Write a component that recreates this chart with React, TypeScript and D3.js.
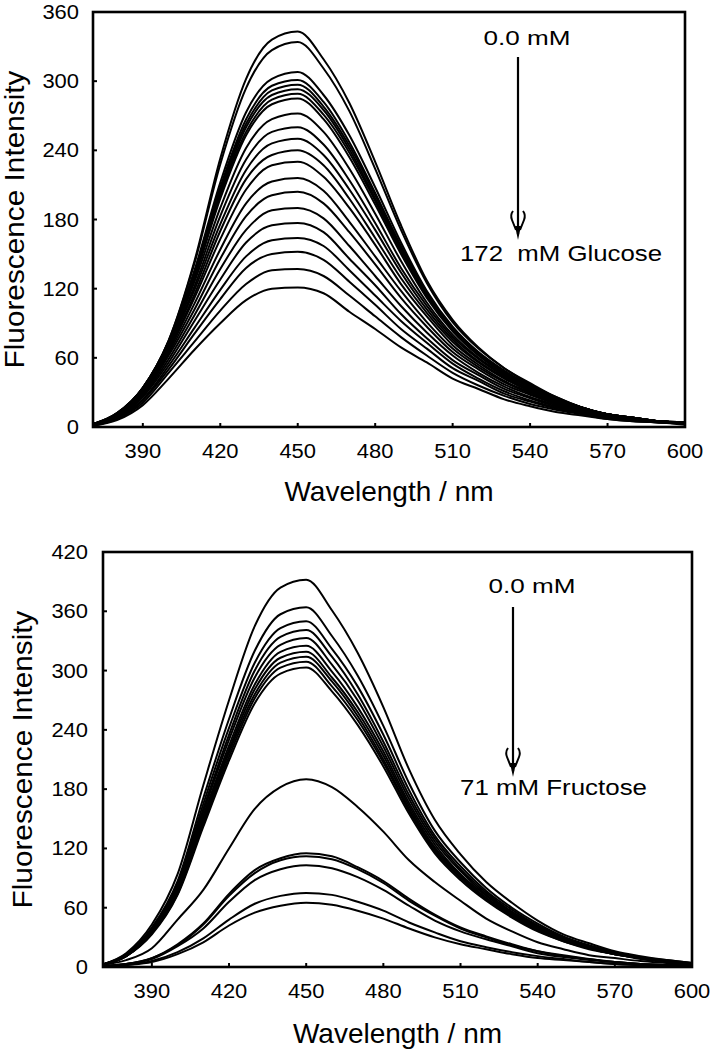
import React from 'react';
import * as d3 from 'd3';

// Wavelength grid (nm)
const WAVELENGTHS = [370, 380, 390, 400, 410, 420, 430, 440, 450, 460, 470, 480, 490, 500, 510, 520, 530, 540, 550, 560, 570, 580, 590, 600];

// Glucose titration: 0.0 mM (top) ... 172 mM (bottom)
const gl00 = [2, 12, 34, 75, 144, 233, 302, 336, 343, 319, 281, 230, 175, 127, 93, 69, 51, 38, 26, 17, 11, 8, 5, 3];
const gl01 = [2, 12, 34, 75, 142, 228, 294, 327, 334, 311, 274, 224, 171, 125, 91, 68, 51, 37, 26, 17, 11, 8, 5, 3];
const gl02 = [2, 12, 34, 74, 136, 212, 273, 302, 308, 288, 253, 208, 160, 118, 87, 65, 49, 36, 25, 17, 11, 8, 5, 4];
const gl03 = [2, 11, 34, 74, 134, 208, 267, 296, 301, 282, 247, 203, 157, 117, 86, 64, 48, 35, 25, 17, 11, 8, 5, 4];
const gl04 = [2, 11, 33, 73, 133, 206, 263, 292, 297, 278, 244, 201, 155, 116, 85, 64, 48, 35, 24, 17, 11, 8, 5, 4];
const gl05 = [2, 11, 33, 73, 132, 203, 260, 288, 293, 275, 241, 198, 153, 114, 85, 63, 47, 35, 24, 17, 11, 8, 5, 4];
const gl06 = [2, 11, 33, 73, 130, 201, 256, 284, 289, 271, 238, 196, 152, 113, 84, 63, 47, 35, 24, 17, 11, 8, 5, 4];
const gl07 = [2, 11, 33, 72, 129, 198, 253, 280, 285, 267, 234, 193, 150, 112, 83, 62, 46, 34, 24, 16, 11, 8, 5, 4];
const gl08 = [2, 11, 32, 71, 126, 190, 242, 267, 272, 256, 224, 185, 144, 108, 80, 60, 45, 33, 23, 16, 11, 8, 5, 4];
const gl09 = [2, 11, 32, 70, 122, 183, 232, 256, 260, 245, 214, 177, 138, 105, 78, 59, 44, 32, 23, 16, 11, 7, 5, 4];
const gl10 = [2, 10, 31, 69, 119, 176, 223, 246, 250, 236, 206, 171, 134, 102, 76, 57, 43, 32, 22, 16, 11, 7, 5, 4];
const gl11 = [2, 10, 31, 67, 115, 170, 215, 236, 240, 227, 198, 164, 129, 99, 74, 56, 42, 31, 22, 15, 10, 7, 5, 4];
const gl12 = [2, 10, 30, 66, 112, 163, 206, 227, 230, 217, 190, 158, 124, 96, 71, 54, 40, 30, 21, 15, 10, 7, 5, 3];
const gl13 = [2, 9, 29, 64, 107, 154, 194, 213, 216, 205, 178, 148, 118, 91, 68, 52, 39, 29, 21, 14, 10, 7, 5, 3];
const gl14 = [2, 9, 28, 62, 102, 146, 183, 201, 204, 194, 169, 141, 112, 87, 65, 50, 37, 28, 20, 14, 10, 7, 5, 3];
const gl15 = [2, 9, 27, 59, 97, 137, 171, 188, 190, 181, 157, 131, 105, 82, 62, 47, 35, 26, 19, 13, 9, 7, 5, 3];
const gl16 = [2, 8, 26, 56, 92, 128, 160, 175, 177, 169, 146, 123, 98, 77, 58, 45, 33, 25, 18, 13, 9, 6, 5, 3];
const gl17 = [1, 8, 24, 53, 86, 119, 148, 162, 164, 157, 136, 114, 92, 73, 55, 42, 31, 23, 17, 12, 8, 6, 4, 3];
const gl18 = [1, 7, 23, 50, 81, 111, 138, 150, 152, 145, 126, 106, 85, 68, 51, 40, 29, 22, 16, 12, 8, 6, 4, 3];
const gl19 = [1, 7, 21, 47, 74, 101, 124, 136, 137, 131, 114, 96, 78, 62, 47, 36, 27, 20, 15, 11, 7, 5, 4, 3];
const gl20 = [1, 6, 19, 42, 67, 90, 110, 120, 121, 116, 100, 85, 69, 56, 42, 33, 24, 18, 13, 10, 7, 5, 4, 2];
const glucoseSeries = [gl00, gl01, gl02, gl03, gl04, gl05, gl06, gl07, gl08, gl09, gl10, gl11, gl12, gl13, gl14, gl15, gl16, gl17, gl18, gl19, gl20];

// Fructose titration: 0.0 mM (top) ... 71 mM (bottom)
const fr00 = [2, 14, 43, 94, 184, 270, 345, 384, 392, 361, 318, 263, 200, 149, 114, 86, 65, 47, 33, 24, 16, 11, 7, 4];
const fr01 = [2, 13, 40, 87, 171, 251, 320, 357, 364, 335, 295, 244, 186, 138, 106, 80, 60, 44, 31, 22, 15, 10, 7, 4];
const fr02 = [2, 12, 39, 84, 165, 242, 308, 343, 350, 322, 284, 235, 179, 133, 102, 77, 58, 42, 30, 21, 15, 10, 6, 4];
const fr03 = [2, 12, 38, 82, 160, 235, 300, 334, 341, 314, 276, 228, 174, 130, 99, 75, 56, 41, 29, 20, 14, 10, 6, 3];
const fr04 = [2, 12, 37, 80, 157, 230, 293, 326, 333, 306, 270, 223, 170, 127, 97, 73, 55, 40, 28, 20, 14, 9, 6, 3];
const fr05 = [2, 11, 36, 78, 153, 224, 286, 319, 325, 299, 263, 218, 166, 124, 94, 72, 54, 39, 28, 20, 14, 9, 6, 3];
const fr06 = [2, 11, 35, 77, 150, 220, 281, 313, 319, 293, 258, 214, 163, 121, 93, 70, 53, 38, 27, 19, 13, 9, 6, 3];
const fr07 = [2, 11, 35, 75, 148, 217, 276, 308, 314, 289, 254, 210, 160, 119, 91, 69, 52, 38, 27, 19, 13, 9, 6, 3];
const fr08 = [2, 11, 34, 74, 145, 213, 272, 303, 309, 284, 250, 207, 158, 117, 90, 68, 51, 37, 26, 19, 13, 9, 6, 3];
const fr09 = [2, 11, 33, 73, 142, 209, 267, 297, 303, 279, 245, 203, 155, 115, 88, 67, 50, 36, 26, 18, 13, 8, 5, 3];
const fr10 = [2, 7, 19, 48, 78, 120, 160, 182, 190, 182, 162, 137, 108, 86, 67, 49, 36, 25, 18, 12, 9, 6, 4, 2];
const fr11 = [1, 3, 9, 23, 44, 74, 98, 110, 115, 112, 101, 87, 69, 53, 40, 31, 23, 16, 12, 8, 5, 3, 2, 1];
const fr12 = [1, 3, 9, 22, 43, 72, 95, 108, 112, 109, 99, 85, 67, 52, 39, 30, 22, 16, 11, 8, 5, 3, 2, 1];
const fr13 = [1, 3, 8, 21, 39, 66, 88, 99, 103, 100, 91, 78, 62, 47, 36, 28, 21, 14, 10, 7, 5, 3, 2, 1];
const fr14 = [0, 2, 6, 15, 29, 48, 64, 72, 75, 73, 66, 57, 45, 35, 26, 20, 15, 11, 8, 5, 3, 2, 2, 1];
const fr15 = [0, 2, 5, 13, 25, 42, 55, 62, 65, 63, 57, 49, 39, 30, 23, 18, 13, 9, 7, 5, 3, 2, 1, 1];
const fructoseSeries = [fr00, fr01, fr02, fr03, fr04, fr05, fr06, fr07, fr08, fr09, fr10, fr11, fr12, fr13, fr14, fr15];

// Tick labels
const X_TICKS = [390, 420, 450, 480, 510, 540, 570, 600];
const Y_TICKS_GLUCOSE = [0, 60, 120, 180, 240, 300, 360];
const Y_TICKS_FRUCTOSE = [0, 60, 120, 180, 240, 300, 360, 420];

const FONT = '"Liberation Sans", Arial, Helvetica, sans-serif';

type PanelCfg = {
  id: string;
  series: number[][];
  yTicks: number[];
  yMax: number;
  xMin: number;
  left: number;
  right: number;
  top: number;
  bottom: number;
  xLabelBaseline: number;
  xTitleBaseline: number;
  yTitleX: number;
  yLabelRight: number;
  startLabel: string;
  startX: number;
  startY: number;
  arrowX: number;
  arrowY1: number;
  arrowY2: number;
  endLabel: string;
  endX: number;
  endY: number;
  endLen: number;
};

function Panel({ cfg }: { cfg: PanelCfg }) {
  const x = d3.scaleLinear().domain([cfg.xMin, 600]).range([cfg.left, cfg.right]);
  const y = d3.scaleLinear().domain([0, cfg.yMax]).range([cfg.bottom, cfg.top]);
  const line = d3
    .line<number>()
    .x((_, i) => x(WAVELENGTHS[i]))
    .y((d) => y(d))
    .curve(d3.curveMonotoneX);
  const clipId = `clip-${cfg.id}`;
  const midX = (cfg.left + cfg.right) / 2;
  const midY = (cfg.top + cfg.bottom) / 2;
  const ax = cfg.arrowX;
  const ay = cfg.arrowY2;
  return (
    <g>
      <defs>
        <clipPath id={clipId}>
          <rect x={cfg.left} y={cfg.top} width={cfg.right - cfg.left} height={cfg.bottom - cfg.top} />
        </clipPath>
      </defs>
      <g clipPath={`url(#${clipId})`}>
        {cfg.series.map((s, i) => (
          <path key={i} d={line(s) || ''} fill="none" stroke="#000" strokeWidth={2} strokeLinejoin="round" />
        ))}
      </g>
      <rect x={cfg.left} y={cfg.top} width={cfg.right - cfg.left} height={cfg.bottom - cfg.top} fill="none" stroke="#000" strokeWidth={2.6} />
      {X_TICKS.map((t) => (
        <g key={`x${t}`}>
          <line x1={x(t)} x2={x(t)} y1={cfg.bottom} y2={cfg.bottom - 4} stroke="#000" strokeWidth={2} />
          <text x={x(t)} y={cfg.xLabelBaseline} textAnchor="middle" fontSize={20} fontFamily={FONT} textLength={String(t).length * 12.2} lengthAdjust="spacingAndGlyphs">
            {t}
          </text>
        </g>
      ))}
      {cfg.yTicks.map((t) => (
        <g key={`y${t}`}>
          <line x1={cfg.left} x2={cfg.left + 4} y1={y(t)} y2={y(t)} stroke="#000" strokeWidth={2} />
          <text x={cfg.yLabelRight} y={y(t) + 7} textAnchor="end" fontSize={20} fontFamily={FONT} textLength={String(t).length * 12.2} lengthAdjust="spacingAndGlyphs">
            {t}
          </text>
        </g>
      ))}
      <text x={midX} y={cfg.xTitleBaseline} textAnchor="middle" fontSize={28} fontFamily={FONT}>
        Wavelength / nm
      </text>
      <text
        transform={`translate(${cfg.yTitleX},${midY}) rotate(-90)`}
        textAnchor="middle"
        fontSize={28}
        fontFamily={FONT}
        textLength={298}
        lengthAdjust="spacingAndGlyphs"
      >
        Fluorescence Intensity
      </text>
      <text x={cfg.startX} y={cfg.startY} textAnchor="middle" fontSize={21} fontFamily={FONT} textLength={87} lengthAdjust="spacingAndGlyphs">
        {cfg.startLabel}
      </text>
      <line x1={ax} x2={ax} y1={cfg.arrowY1} y2={ay - 6} stroke="#000" strokeWidth={2.2} />
      <path d={`M${ax},${ay} L${ax - 3},${ay - 14} L${ax + 3},${ay - 14} Z`} fill="#000" />
      <path
        d={`M${ax - 2},${ay - 10} L${ax - 6},${ay - 20} Q${ax - 8},${ay - 25} ${ax - 5},${ay - 29} M${ax + 2},${ay - 10} L${ax + 6},${ay - 20} Q${ax + 8},${ay - 25} ${ax + 5},${ay - 29}`}
        fill="none"
        stroke="#000"
        strokeWidth={2}
      />
      <text x={cfg.endX} y={cfg.endY} textAnchor="start" fontSize={22} fontFamily={FONT} textLength={cfg.endLen} lengthAdjust="spacingAndGlyphs" style={{ whiteSpace: 'pre' }}>
        {cfg.endLabel}
      </text>
    </g>
  );
}

const topCfg: PanelCfg = {
  id: 'glucose',
  series: glucoseSeries,
  yTicks: Y_TICKS_GLUCOSE,
  yMax: 360,
  xMin: 370.7,
  left: 93,
  right: 685,
  top: 12,
  bottom: 427,
  xLabelBaseline: 458,
  xTitleBaseline: 501,
  yTitleX: 24,
  yLabelRight: 79,
  startLabel: '0.0 mM',
  startX: 527,
  startY: 45,
  arrowX: 518,
  arrowY1: 57,
  arrowY2: 240,
  endLabel: '172\u00a0\u00a0mM Glucose',
  endX: 460,
  endY: 261,
  endLen: 202,
};

const bottomCfg: PanelCfg = {
  id: 'fructose',
  series: fructoseSeries,
  yTicks: Y_TICKS_FRUCTOSE,
  yMax: 420,
  xMin: 371,
  left: 103,
  right: 692,
  top: 552,
  bottom: 967,
  xLabelBaseline: 998,
  xTitleBaseline: 1043,
  yTitleX: 32,
  yLabelRight: 88,
  startLabel: '0.0 mM',
  startX: 532,
  startY: 593,
  arrowX: 513,
  arrowY1: 607,
  arrowY2: 777,
  endLabel: '71 mM Fructose',
  endX: 460,
  endY: 795,
  endLen: 187,
};

export default function App() {
  return (
    <svg
      width={710}
      height={1050}
      viewBox="0 0 710 1050"
      style={{ position: 'absolute', left: 0, top: 0, background: '#fff' }}
    >
      <rect x={0} y={0} width={710} height={1050} fill="#fff" />
      <Panel cfg={topCfg} />
      <Panel cfg={bottomCfg} />
    </svg>
  );
}
